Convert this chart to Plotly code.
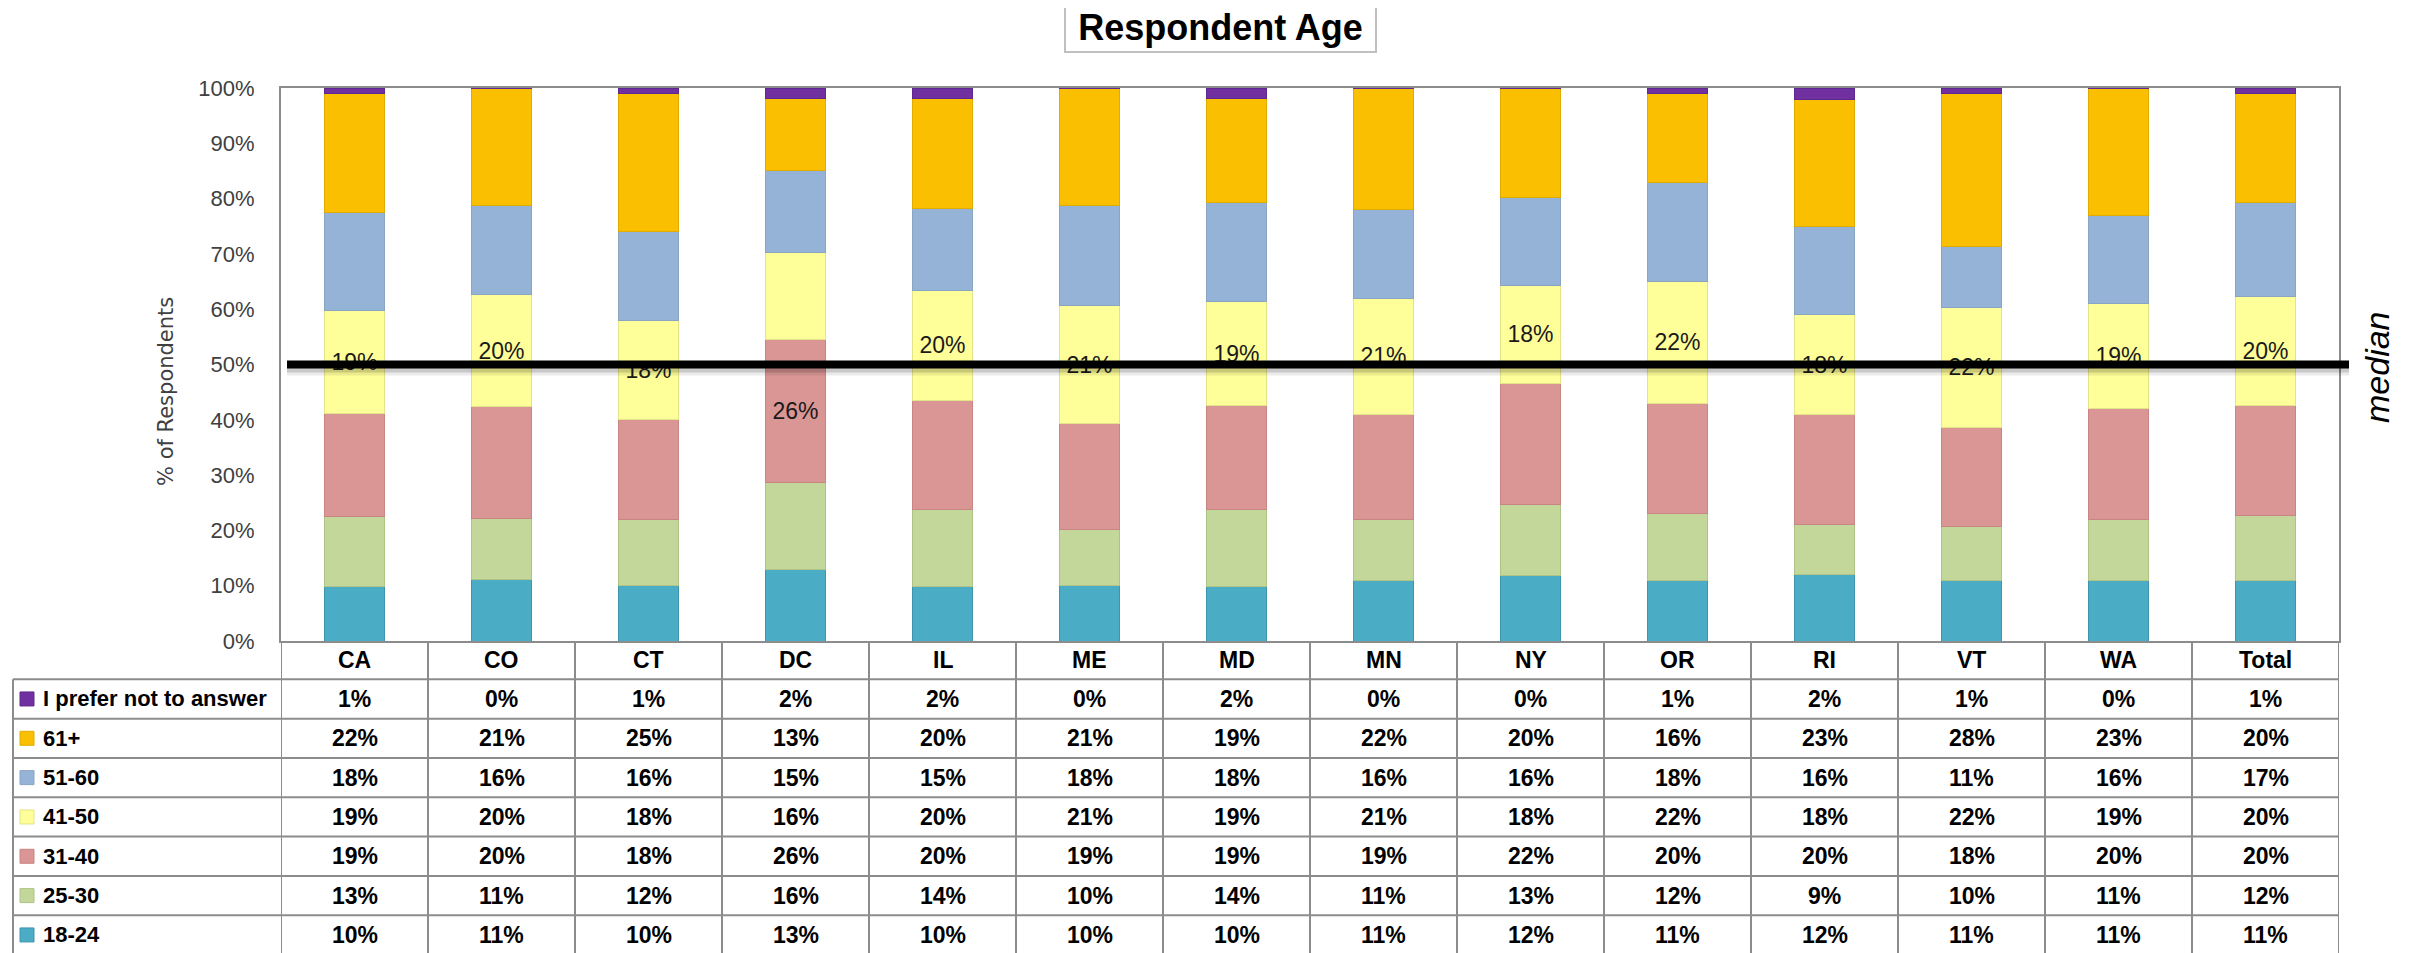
import plotly.graph_objects as go

# ---------------- data ----------------
categories = ["CA", "CO", "CT", "DC", "IL", "ME", "MD", "MN", "NY", "OR", "RI", "VT", "WA", "Total"]

age_18_24 = [10, 11, 10, 13, 10, 10, 10, 11, 12, 11, 12, 11, 11, 11]
age_25_30 = [13, 11, 12, 16, 14, 10, 14, 11, 13, 12, 9, 10, 11, 12]
age_31_40 = [19, 20, 18, 26, 20, 19, 19, 19, 22, 20, 20, 18, 20, 20]
age_41_50 = [19, 20, 18, 16, 20, 21, 19, 21, 18, 22, 18, 22, 19, 20]
age_51_60 = [18, 16, 16, 15, 15, 18, 18, 16, 16, 18, 16, 11, 16, 17]
age_61_plus = [22, 21, 25, 13, 20, 21, 19, 22, 20, 16, 23, 28, 23, 20]
prefer_not = [1, 0, 1, 2, 2, 0, 2, 0, 0, 1, 2, 1, 0, 1]

series_names = ["18-24", "25-30", "31-40", "41-50", "51-60", "61+", "I prefer not to answer"]
series_values = [age_18_24, age_25_30, age_31_40, age_41_50, age_51_60, age_61_plus, prefer_not]
series_colors = ["#4BACC6", "#C4D79B", "#DA9694", "#FFFF99", "#95B3D7", "#F9BF00", "#7030A0"]
series_lines = ["#3F95AD", "#AFC386", "#C98583", "#E3E38A", "#8AA4C4", "#E0AC00", "#5F2890"]

y_ticks = [0, 10, 20, 30, 40, 50, 60, 70, 80, 90, 100]
y_tick_labels = [f"{v}%" for v in y_ticks]
median_level = 50

title_text = "Respondent Age"
y_title = "% of Respondents"
median_text = "median"

# ---------------- layout geometry ----------------
W, H = 2417, 953
OFF = 8  # page body margin of the browser
L, R, T, B = 281 - OFF, 2339 - OFF, 88 - OFF, 641 - OFF


def px(x):
    return (x - OFF - L) / (R - L)


def py(y):
    return (B - (y - OFF)) / (B - T)


FONT = "Liberation Sans, Arial, sans-serif"
GRID = "#8C8C8C"

# median segment per category (segment containing the 50% point)
n = len(categories)
label_texts = [["" for _ in range(n)] for _ in series_values]
for j in range(n):
    total = sum(s[j] for s in series_values)
    cum = 0
    for i, s in enumerate(series_values):
        if cum < total / 2 <= cum + s[j]:
            label_texts[i][j] = f"{s[j]}%"
            break
        cum += s[j]

fig = go.Figure()
for i, (name, vals) in enumerate(zip(series_names, series_values)):
    fig.add_trace(go.Bar(
        x=categories, y=vals, name=name,
        marker=dict(color=series_colors[i], line=dict(color=series_lines[i], width=1)),
        text=label_texts[i], textposition="inside", insidetextanchor="middle",
        textangle=0, constraintext="none",
        textfont=dict(family=FONT, size=23, color="#1A1A1A"),
        hoverinfo="skip", showlegend=False,
    ))

shapes = []
annotations = []

# median line with soft shadow
y_med_px = 641 - (641 - 88) * median_level / 100
for off, w, c in [(4, 14, "rgba(0,0,0,0.08)"), (3, 10, "rgba(0,0,0,0.15)")]:
    shapes.append(dict(type="line", xref="paper", yref="paper",
                       x0=px(287), x1=px(2349),
                       y0=py(y_med_px + off), y1=py(y_med_px + off),
                       line=dict(color=c, width=w)))
shapes.append(dict(type="line", xref="paper", yref="y", x0=px(287), x1=px(2349),
                   y0=median_level, y1=median_level, line=dict(color="#000000", width=8)))

# ---------------- table ----------------
row_top = 679.3
row_h = 39.33
row_order = list(range(len(series_names)))[::-1]  # top row = last series

for k in range(len(row_order) + 1):
    yy = row_top + k * row_h
    shapes.append(dict(type="line", xref="paper", yref="paper", x0=px(13), x1=1,
                       y0=py(yy), y1=py(yy), line=dict(color=GRID, width=2), layer="above"))
shapes.append(dict(type="line", xref="paper", yref="paper", x0=px(13), x1=px(13),
                   y0=py(row_top), y1=py(H + 20), line=dict(color=GRID, width=2)))
for i in range(n + 1):
    shapes.append(dict(type="line", xref="x", yref="paper", x0=i - 0.5, x1=i - 0.5,
                       y0=0, y1=py(H + 20), line=dict(color=GRID, width=2)))

for c in categories:
    annotations.append(dict(x=c, xref="x", y=py(660), yref="paper", text=f"<b>{c}</b>",
                            showarrow=False, xanchor="center", yanchor="middle",
                            font=dict(family=FONT, size=23, color="#000000")))

for r, si in enumerate(row_order):
    yc = row_top + (r + 0.5) * row_h
    shapes.append(dict(type="rect", xref="paper", yref="paper",
                       x0=px(20), x1=px(34), y0=py(yc - 7), y1=py(yc + 7),
                       fillcolor=series_colors[si], line=dict(color=series_lines[si], width=1)))
    annotations.append(dict(x=px(41), xref="paper", y=py(yc), yref="paper",
                            text=f"<b>{series_names[si]}</b>", showarrow=False,
                            xanchor="left", yanchor="middle",
                            font=dict(family=FONT, size=22, color="#000000")))
    for j, c in enumerate(categories):
        annotations.append(dict(x=c, xref="x", y=py(yc), yref="paper",
                                text=f"<b>{series_values[si][j]}%</b>", showarrow=False,
                                xanchor="center", yanchor="middle",
                                font=dict(family=FONT, size=23, color="#000000")))

# title box
annotations.append(dict(x=px(1220), y=py(27), xref="paper", yref="paper",
                        text=f"<b>{title_text}</b>", showarrow=False,
                        xanchor="center", yanchor="middle", width=309, height=48,
                        font=dict(family=FONT, size=36, color="#000000"),
                        bordercolor="#C0C0C0", borderwidth=2, borderpad=0, bgcolor="#FFFFFF"))
# y-axis title
annotations.append(dict(x=px(166), y=py(392), xref="paper", yref="paper",
                        text=y_title, showarrow=False, textangle=-90,
                        xanchor="center", yanchor="middle",
                        font=dict(family="DejaVu Sans, Verdana, sans-serif", size=21, color="#404040")))
# median label
annotations.append(dict(x=px(2377), y=py(367), xref="paper", yref="paper",
                        text=f"<i>{median_text}</i>", showarrow=False, textangle=-90,
                        xanchor="center", yanchor="middle",
                        font=dict(family=FONT, size=34, color="#000000")))

fig.update_layout(
    width=W, height=H,
    margin=dict(l=L, r=W - R, t=T, b=H - B, pad=0),
    barmode="stack", barnorm="percent", bargap=0.59,
    paper_bgcolor="#FFFFFF", plot_bgcolor="#FFFFFF",
    shapes=shapes, annotations=annotations,
    showlegend=False,
    xaxis=dict(type="category", range=[-0.5, n - 0.5], showticklabels=False,
               showline=True, mirror=True, linecolor=GRID, linewidth=2,
               showgrid=False, zeroline=False, ticks=""),
    yaxis=dict(range=[0, 100], tickvals=y_ticks, ticktext=y_tick_labels,
               showline=True, mirror=True, linecolor=GRID, linewidth=2,
               showgrid=False, zeroline=False, ticks="", ticklabelstandoff=20,
               tickfont=dict(family=FONT, size=22, color="#404040")),
)

fig.write_html("out.html")
